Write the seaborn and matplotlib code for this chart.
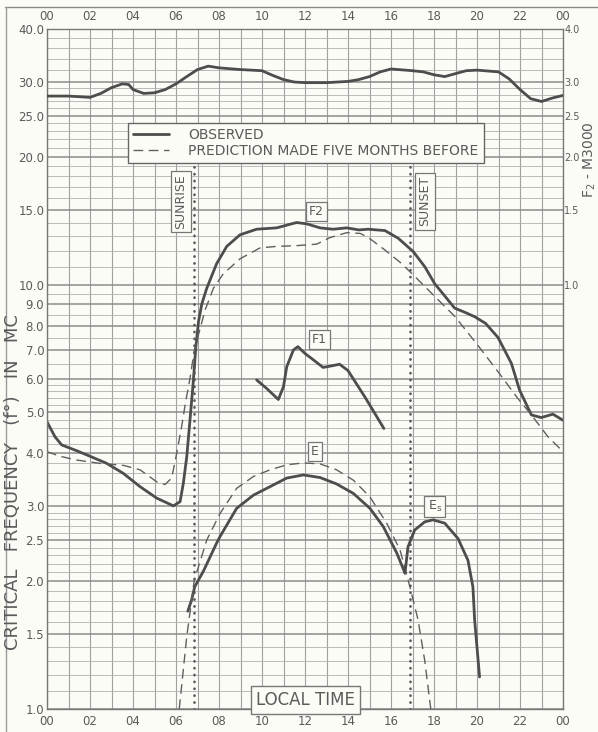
import numpy as np
import pandas as pd
import matplotlib
matplotlib.use("Agg")
import matplotlib.pyplot as plt
from matplotlib.lines import Line2D
from matplotlib.ticker import FixedLocator, FixedFormatter, NullFormatter
import seaborn as sns

# ---------------- data ----------------
m3000_hours = [0, 1, 2, 2.5, 3, 3.5, 3.8, 4, 4.5, 5, 5.5, 6, 6.5, 7, 7.5, 8, 9, 10, 10.5,
               11, 11.5, 12, 13, 14, 14.5, 15, 15.5, 16, 17, 17.5, 18, 18.5, 19, 19.5,
               20, 21, 21.5, 22, 22.5, 23, 23.5, 24]
m3000_vals = [2.78, 2.78, 2.76, 2.82, 2.91, 2.97, 2.96, 2.88, 2.82, 2.83, 2.88, 2.97, 3.09,
              3.21, 3.27, 3.24, 3.21, 3.19, 3.11, 3.04, 3.00, 2.99, 2.99, 3.01, 3.04, 3.09,
              3.17, 3.22, 3.19, 3.17, 3.12, 3.09, 3.14, 3.19, 3.20, 3.17, 3.05, 2.88, 2.74,
              2.70, 2.75, 2.79]

f2_obs_hours = [0, 0.37, 0.68, 1.38, 2.0, 2.78, 3.55, 4.33, 5.1, 5.88, 6.19, 6.34, 6.5, 6.65,
                6.81, 6.92, 7.05, 7.2, 7.43, 7.89, 8.36, 8.98, 9.75, 10.68, 11.61, 12.08,
                12.7, 13.3, 13.94, 14.5, 14.95, 15.72, 16.34, 17.04, 17.58, 18.03, 18.5,
                18.96, 19.44, 19.89, 20.4, 20.98, 21.6, 21.98, 22.53, 22.99, 23.53, 24]
f2_obs_vals = [4.75, 4.38, 4.19, 4.06, 3.94, 3.79, 3.59, 3.34, 3.14, 3.01, 3.08, 3.40, 3.93, 4.79,
               5.96, 7.1, 8.2, 9.0, 9.8, 11.2, 12.3, 13.1, 13.5, 13.6, 14.0, 13.9,
               13.6, 13.5, 13.6, 13.45, 13.5, 13.4, 12.85, 11.95, 11.0, 10.05, 9.4,
               8.8, 8.6, 8.4, 8.1, 7.5, 6.52, 5.64, 4.93, 4.86, 4.95, 4.79]

f2_pred_hours = [0, 0.6, 1.38, 2.47, 3.55, 4.33, 5.1, 5.49, 5.8, 6.03, 6.26, 6.45, 6.65, 6.85,
                 7.1, 7.35, 7.74, 8.2, 8.98, 9.91, 10.68, 11.61, 12.54, 13.16, 13.94, 14.56,
                 14.95, 15.72, 16.5, 17.27, 18.05, 18.98, 20.06, 20.98, 21.9, 22.53, 23.3, 24]
f2_pred_vals = [4.04, 3.94, 3.86, 3.79, 3.75, 3.66, 3.43, 3.38, 3.50, 4.0, 4.62, 5.3, 6.0, 7.0,
                7.8, 8.7, 9.8, 10.6, 11.5, 12.2, 12.3, 12.35, 12.45, 12.9, 13.25, 13.2,
                12.9, 12.06, 11.2, 10.25, 9.36, 8.40, 7.17, 6.23, 5.39, 4.93, 4.38, 4.04]

f1_obs_hours = [9.75, 10.22, 10.76, 11.0, 11.15, 11.46, 11.67, 12.0, 12.3, 12.84, 13.22,
                13.61, 14.0, 14.78, 15.67]
f1_obs_vals = [5.96, 5.69, 5.36, 5.75, 6.40, 7.01, 7.14, 6.88, 6.70, 6.38, 6.43,
               6.49, 6.27, 5.44, 4.58]

e_obs_hours = [6.55, 6.73, 6.87, 7.27, 7.89, 8.05, 8.82, 9.6, 10.37, 11.15, 11.92, 12.7,
               13.47, 14.25, 15.02, 15.64, 16.27, 16.65]
e_obs_vals = [1.70, 1.81, 1.94, 2.11, 2.46, 2.55, 2.97, 3.19, 3.34, 3.50, 3.56, 3.51,
              3.39, 3.22, 2.97, 2.69, 2.33, 2.09]

e_pred_hours = [6.15, 6.5, 6.85, 7.43, 8.05, 8.82, 9.6, 10.37, 11.15, 11.92, 12.7, 13.47,
                14.25, 15.02, 15.8, 16.42, 16.88, 17.26, 17.57, 17.85]
e_pred_vals = [1.0, 1.48, 2.01, 2.50, 2.89, 3.31, 3.53, 3.66, 3.76, 3.80, 3.78, 3.66,
               3.46, 3.16, 2.74, 2.37, 1.94, 1.62, 1.30, 1.0]

es_obs_hours = [16.65, 16.79, 17.1, 17.57, 17.95, 18.5, 19.12, 19.58, 19.81, 19.89, 20.12]
es_obs_vals = [2.09, 2.41, 2.64, 2.76, 2.79, 2.74, 2.52, 2.24, 1.94, 1.62, 1.19]

sun_hours = [6.85, 16.9]
sun_labels = ["SUNRISE", "SUNSET"]

x_tick_hours = list(range(0, 25, 2))
x_tick_labels = ["00", "02", "04", "06", "08", "10", "12", "14", "16", "18", "20", "22", "00"]
y_major = [1.0, 1.5, 2.0, 2.5, 3.0, 4.0, 5.0, 6.0, 7.0, 8.0, 9.0, 10, 15, 20, 25, 30, 40]
y_major_labels = ["1.0", "1.5", "2.0", "2.5", "3.0", "4.0", "5.0", "6.0", "7.0", "8.0",
                  "9.0", "10.0", "15.0", "20.0", "25.0", "30.0", "40.0"]
y_minor = ([1.1, 1.2, 1.3, 1.4, 1.6, 1.7, 1.8, 1.9, 2.1, 2.2, 2.3, 2.4, 2.6, 2.7, 2.8, 2.9,
            3.2, 3.4, 3.6, 3.8, 4.2, 4.4, 4.6, 4.8, 5.2, 5.4, 5.6, 5.8, 6.5, 7.5, 8.5, 9.5,
            11, 12, 13, 14, 16, 17, 18, 19, 21, 22, 23, 24, 26, 27, 28, 29, 32, 34, 36, 38])
m_ticks = [1.0, 1.5, 2.0, 2.5, 3.0, 4.0]
m_tick_labels = ["1.0", "1.5", "2.0", "2.5", "3.0", "4.0"]

# ---------------- style ----------------
sns.set_theme(style="white")
plt.rcParams["font.family"] = ["DejaVu Sans"]
BG = "#fcfcf7"
INK = "#4d4d4d"
TXT = "#5a5a5a"

fig = plt.figure(figsize=(5.98, 7.32), dpi=100, facecolor=BG)
ax = fig.add_axes([47 / 598, 23 / 732, 516 / 598, 680 / 732])
ax.set_facecolor(BG)
ax.set_yscale("log")
ax.set_xlim(0, 24)
ax.set_ylim(1.0, 40)

ax.yaxis.set_major_locator(FixedLocator(y_major))
ax.yaxis.set_major_formatter(FixedFormatter(y_major_labels))
ax.yaxis.set_minor_locator(FixedLocator(y_minor))
ax.yaxis.set_minor_formatter(NullFormatter())
ax.xaxis.set_major_locator(FixedLocator(x_tick_hours))
ax.xaxis.set_major_formatter(FixedFormatter(x_tick_labels))
ax.xaxis.set_minor_locator(FixedLocator([h for h in range(1, 24, 2)]))

ax.grid(True, which="major", axis="y", color="#8c8c8c", lw=1.1)
ax.grid(True, which="minor", axis="y", color="#b0b0b0", lw=0.6)
ax.grid(True, which="both", axis="x", color="#a0a0a0", lw=0.8)
ax.set_axisbelow(True)
ax.tick_params(axis="x", which="both", length=0, top=True, labeltop=True, bottom=True,
               labelbottom=True, pad=4, labelsize=8.5, labelcolor=TXT)
ax.tick_params(axis="y", which="both", length=0, pad=2, labelsize=8.5, labelcolor=TXT)
for s in ax.spines.values():
    s.set_color("#777777")
    s.set_linewidth(1.0)

# ---------------- curves ----------------
def draw(hours, vals, axis, dashed=False, label=None):
    df = pd.DataFrame({"hour": hours, "val": vals})
    kw = dict(color=INK, linewidth=2.0) if not dashed else dict(
        color="#5f5f5f", linewidth=1.0, linestyle=(0, (7, 4)))
    sns.lineplot(data=df, x="hour", y="val", ax=axis, estimator=None, sort=False,
                 label=label, legend=False, **kw)

draw(f2_obs_hours, f2_obs_vals, ax, label="OBSERVED")
draw(f2_pred_hours, f2_pred_vals, ax, dashed=True, label="PREDICTION MADE FIVE MONTHS BEFORE")
draw(f1_obs_hours, f1_obs_vals, ax)
draw(e_obs_hours, e_obs_vals, ax)
draw(e_pred_hours, e_pred_vals, ax, dashed=True)
draw(es_obs_hours, es_obs_vals, ax)

ax.vlines(sun_hours, 1.0, 19.5, colors="#555555", linewidth=1.9,
          linestyles=[(0, (0.1, 2.5))], capstyle="round")

ax.set_xlabel("")
ax.set_ylabel("")

# right axis: F2-M3000
ax2 = ax.twinx()
ax2.set_yscale("log")
ax2.set_ylim(0.1, 4.0)
draw(m3000_hours, m3000_vals, ax2)
ax2.yaxis.set_major_locator(FixedLocator(m_ticks))
ax2.yaxis.set_major_formatter(FixedFormatter(m_tick_labels))
ax2.yaxis.set_minor_locator(FixedLocator([]))
ax2.tick_params(axis="y", which="both", length=0, pad=1, labelsize=7, labelcolor=TXT)
ax2.set_ylabel("")
ax2.set_xlim(0, 24)
for s in ax2.spines.values():
    s.set_visible(False)

# ---------------- annotations ----------------
box = dict(boxstyle="square,pad=0.25", fc=BG, ec="#777777", lw=0.9)
ax.text(12.54, 14.84, "F2", ha="center", va="center", fontsize=9, color=TXT, bbox=box)
ax.text(12.68, 7.43, "F1", ha="center", va="center", fontsize=9, color=TXT, bbox=box)
ax.text(12.47, 4.04, "E", ha="center", va="center", fontsize=9, color=TXT, bbox=box)
ax.text(18.03, 3.0, r"E$_\mathregular{s}$", ha="center", va="center", fontsize=9,
        color=TXT, bbox=box)
ax.text(sun_hours[0] - 0.62, 15.7, sun_labels[0], rotation=90, ha="center", va="center",
        fontsize=9, color=TXT, bbox=box)
ax.text(sun_hours[1] + 0.68, 15.7, sun_labels[1], rotation=90, ha="center", va="center",
        fontsize=9, color=TXT, bbox=box)
ax.text(12.02, 1.0, "LOCAL TIME", ha="center", va="bottom", fontsize=12, color=TXT,
        bbox=dict(boxstyle="square,pad=0.3", fc=BG, ec="#777777", lw=1.0))

handles, labels = ax.get_legend_handles_labels()
leg = ax.legend(handles[:2], labels[:2], loc="upper left", bbox_to_anchor=(0.157, 0.862),
                borderaxespad=0, frameon=True, fancybox=False, fontsize=10,
                handlelength=2.6, handletextpad=1.4, labelspacing=0.15, borderpad=0.35,
                facecolor=BG, edgecolor="#666666", framealpha=1)
for t in leg.get_texts():
    t.set_color(TXT)
leg.get_frame().set_linewidth(1.0)

fig.text(13 / 598, 1 - 482 / 732, "CRITICAL   FREQUENCY   (f°)   IN   MC", rotation=90,
         ha="center", va="center", fontsize=13, color=TXT)
fig.text(589.5 / 598, 1 - 160 / 732, "F$_2$ - M3000", rotation=90, ha="center",
         va="center", fontsize=10, color=TXT)

fig.add_artist(Line2D([5 / 598, 1.0], [1 - 7 / 732, 1 - 7 / 732], color="#8a8a8a", lw=1.0))
fig.add_artist(Line2D([6 / 598, 6 / 598], [0, 1 - 7 / 732], color="#9a9a9a", lw=1.0))

fig.savefig("out.png", dpi=100, facecolor=BG)
